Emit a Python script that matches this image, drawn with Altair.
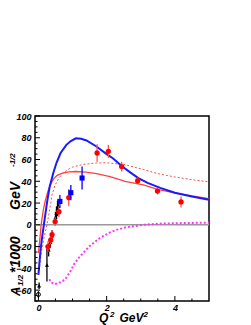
import altair as alt
import pandas as pd

# ---------------- data ----------------
blue_q2 = [0.0, 0.06, 0.11, 0.16, 0.2, 0.26, 0.33, 0.43, 0.53, 0.65, 0.82, 0.95, 1.1, 1.25, 1.41, 1.7, 2.0, 2.19, 2.44, 2.7, 2.93, 3.2, 3.57, 4.0, 4.5, 5.0]
blue_a = [-46, -24, -11, 0, 9, 22, 35, 47, 57, 66, 73.5, 77, 79.5, 79, 77.5, 72, 65, 61, 54, 48, 43, 38.5, 34, 29.5, 26, 23]

reds_q2 = [0.0, 0.04, 0.08, 0.14, 0.2, 0.27, 0.35, 0.45, 0.55, 0.7, 0.9, 1.1, 1.4, 1.7, 2.1, 2.54, 3.08, 3.49, 4.06, 4.5, 5.0]
reds_a = [-26, -14, 0, 13, 22, 30, 37, 42.5, 45.5, 47.5, 48.7, 49, 48.5, 47, 44.3, 40, 36.7, 32.5, 29, 26.5, 24]

redd_q2 = [0.02, 0.08, 0.15, 0.25, 0.33, 0.4, 0.48, 0.6, 0.72, 0.85, 1.0, 1.3, 1.7, 2.0, 2.5, 3.0, 3.5, 4.0, 4.5, 5.0]
redd_a = [-42, -27, -14, 0, 14, 27.5, 36, 43, 47.5, 50.5, 53, 55.5, 56.8, 57, 55.5, 51.5, 47, 44, 41.5, 39.5]

mag_q2 = [0.32, 0.38, 0.48, 0.6, 0.72, 0.82, 0.95, 1.05, 1.15, 1.31, 1.5, 1.8, 2.1, 2.29, 2.54, 3.08, 3.5, 4.06, 5.0]
mag_a = [-50, -53, -54.5, -53.5, -51.5, -48.5, -42, -36, -31.5, -26, -19.5, -12.2, -7, -4.6, -2.5, 0, 1, 1.5, 2]

red_pt_q2 = [0.28, 0.36, 0.40, 0.49, 0.60, 0.89, 1.72, 2.05, 2.44, 2.91, 3.49, 4.18]
red_pt_a = [-20, -14, -9, 3, 12, 25, 66, 67.5, 53.5, 40.5, 31, 21]
red_pt_e = [5, 4, 4, 4, 5, 8, 8, 6, 4.5, 3, 3, 5]

blue_pt_q2 = [0.63, 0.95, 1.28]
blue_pt_a = [21.5, 29.5, 43]
blue_pt_e = [6, 7, 10.5]

blk_pt_q2 = [0.02, 0.25, 0.30, 0.35, 0.40, 0.50, 0.53, 0.56, 0.58]
blk_pt_a = [-56, -37, -23, -16, -10, 7, 11, 15, 17]
blk_pt_e = [3, 15, 6, 5, 5, 5, 6, 7, 6]

open_q2 = [0.0]
open_a = [-64]
open_e = [3]

x_major = [0, 2, 4]
x_minor = [0.5, 1, 1.5, 2.5, 3, 3.5, 4.5]
y_major = [-60, -40, -20, 0, 20, 40, 60, 80, 100]
y_minor = [v for v in range(-70, 101, 5) if v % 20 != 0]

W, H = 174, 185
XS = alt.Scale(domain=[-0.1, 5.0], nice=False, zero=False)
YS = alt.Scale(domain=[-70, 100], nice=False, zero=False)
FONT = "Liberation Sans"

AXX = alt.Axis(values=x_major, format="d", tickSize=0, domain=False, grid=False,
               labelFont=FONT, labelFontSize=9, labelFontWeight="bold",
               labelFontStyle="italic", labelColor="black", labelPadding=2, title=None)
AXY = alt.Axis(values=y_major, format="d", tickSize=0, domain=False, grid=False,
               labelFont=FONT, labelFontSize=9, labelFontWeight="bold",
               labelFontStyle="italic", labelColor="black", labelPadding=4, title=None)


def X(f):
    return alt.X(f, scale=XS, axis=AXX)


def Y(f):
    return alt.Y(f, scale=YS, axis=AXY)


def curve(q, a, color, width, dash=None):
    df = pd.DataFrame({"q": q, "a": a})
    kw = dict(color=color, strokeWidth=width, clip=True)
    if dash:
        kw["strokeDash"] = dash
    return alt.Chart(df).mark_line(**kw).encode(x=X("q:Q"), y=Y("a:Q"), order="q:Q")


def points(q, a, e, color, shape, size, filled=True, ecolor=None):
    df = pd.DataFrame({"q": q, "a": a, "lo": [v - d for v, d in zip(a, e)], "hi": [v + d for v, d in zip(a, e)]})
    bars = alt.Chart(df).mark_rule(color=ecolor or color, strokeWidth=1.3).encode(
        x=X("q:Q"), y=Y("lo:Q"), y2="hi:Q")
    pts = alt.Chart(df).mark_point(shape=shape, size=size, filled=filled, color=color, opacity=1,
                                   strokeWidth=1).encode(x=X("q:Q"), y=Y("a:Q"))
    return bars + pts


zero = alt.Chart(pd.DataFrame({"a": [0.0]})).mark_rule(color="#999999", strokeWidth=1.5).encode(
    y=Y("a:Q"), x=alt.value(0), x2=alt.value(W))

xt_major = alt.Chart(pd.DataFrame({"q": x_major})).mark_rule(color="black", strokeWidth=1).encode(
    x=X("q:Q"), y=alt.value(H), y2=alt.value(H - 5))
xt_minor = alt.Chart(pd.DataFrame({"q": x_minor})).mark_rule(color="black", strokeWidth=1).encode(
    x=X("q:Q"), y=alt.value(H), y2=alt.value(H - 2.5))
yt_major = alt.Chart(pd.DataFrame({"a": y_major})).mark_rule(color="black", strokeWidth=1).encode(
    y=Y("a:Q"), x=alt.value(0), x2=alt.value(5))
yt_minor = alt.Chart(pd.DataFrame({"a": y_minor})).mark_rule(color="black", strokeWidth=1).encode(
    y=Y("a:Q"), x=alt.value(0), x2=alt.value(2.5))


def txt(s, x, y, size, angle=0):
    return alt.Chart(pd.DataFrame({"t": [s]})).mark_text(
        text=s, font=FONT, fontSize=size, fontWeight="bold", fontStyle="italic", color="black",
        align="left", baseline="alphabetic", angle=angle
    ).encode(x=alt.value(x), y=alt.value(y))


titles = [
    txt("Q", 64, 206, 12),
    txt("2", 75, 200.5, 8),
    txt("GeV", 84.5, 206, 12),
    txt("2", 108.5, 200.5, 8),
    txt("A", -15, 180, 13, 270),
    txt("1/2", -12, 170, 8, 270),
    txt("*1000", -15, 157, 14, 270),
    txt("GeV", -15, 94, 14, 270),
    txt("-1/2", -20, 51, 8, 270),
]

chart = alt.layer(
    zero,
    curve(mag_q2, mag_a, "#ff33ff", 2, [2, 2]),
    curve(redd_q2, redd_a, "#ff4d4d", 1, [2, 2]),
    curve(reds_q2, reds_a, "#ff4040", 1.3),
    curve(blue_q2, blue_a, "#1a1aff", 2),
    points(blk_pt_q2, blk_pt_a, blk_pt_e, "black", "triangle-up", 16),
    points(open_q2, open_a, open_e, "black", "circle", 16, filled=False),
    points(red_pt_q2, red_pt_a, red_pt_e, "#ff0000", "circle", 28, ecolor="#ff5050"),
    points(blue_pt_q2, blue_pt_a, blue_pt_e, "#0000ff", "square", 26),
    xt_major, xt_minor, yt_major, yt_minor,
    *titles,
).properties(
    width=W, height=H,
    autosize=alt.AutoSizeParams(type="none"),
    padding={"left": 27, "top": 108, "right": 26, "bottom": 24},
).configure_view(stroke="black", strokeWidth=1.5)

chart.save("out.html", embed_options={"renderer": "svg", "actions": False})
